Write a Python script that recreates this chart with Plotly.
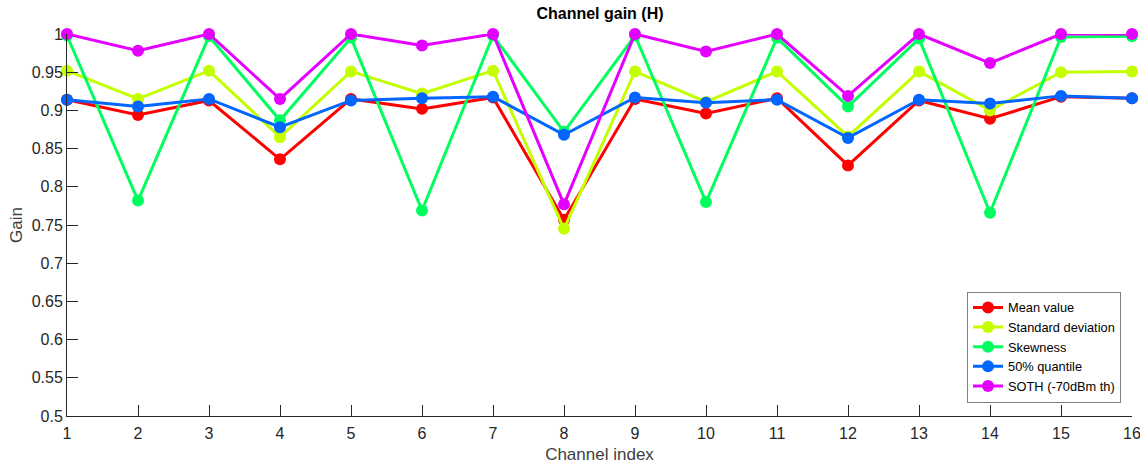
import plotly.graph_objects as go

# Channel indices and per-metric gains
channels = list(range(1, 17))

mean_value = [0.914, 0.894, 0.913, 0.836, 0.915, 0.902, 0.917, 0.757,
              0.915, 0.896, 0.916, 0.828, 0.913, 0.889, 0.918, 0.916]
std_dev = [0.952, 0.915, 0.952, 0.865, 0.951, 0.922, 0.952, 0.745,
           0.951, 0.911, 0.951, 0.866, 0.951, 0.900, 0.950, 0.951]
skewness = [0.998, 0.782, 0.997, 0.887, 0.995, 0.769, 0.998, 0.872,
            0.998, 0.780, 0.995, 0.905, 0.994, 0.766, 0.996, 0.997]
quantile50 = [0.914, 0.905, 0.915, 0.878, 0.913, 0.916, 0.918, 0.868,
              0.917, 0.910, 0.914, 0.864, 0.914, 0.909, 0.919, 0.916]
soth = [1.000, 0.978, 1.000, 0.915, 1.000, 0.985, 1.000, 0.777,
        1.000, 0.977, 1.000, 0.919, 1.000, 0.962, 1.000, 1.000]

series = [
    ("Mean value", mean_value, "#FF0000"),
    ("Standard deviation", std_dev, "#C4FF00"),
    ("Skewness", skewness, "#00FF5E"),
    ("50% quantile", quantile50, "#0066FF"),
    ("SOTH (-70dBm th)", soth, "#E400FF"),
]

x_ticks = list(range(1, 17))
y_ticks = [0.5, 0.55, 0.6, 0.65, 0.7, 0.75, 0.8, 0.85, 0.9, 0.95, 1.0]
y_tick_text = ["0.5", "0.55", "0.6", "0.65", "0.7", "0.75", "0.8", "0.85", "0.9", "0.95", "1"]

fig = go.Figure()
for name, vals, color in series:
    fig.add_trace(go.Scatter(
        x=channels, y=vals, name=name, mode="lines+markers",
        line=dict(color=color, width=3),
        marker=dict(color=color, size=12),
        cliponaxis=False,
    ))

axis_color = "#262626"
font_family = "Liberation Sans, Arial, sans-serif"

fig.update_layout(
    width=1140, height=464,
    margin=dict(l=67, r=8, t=34, b=48),
    paper_bgcolor="white", plot_bgcolor="white",
    font=dict(family=font_family, size=16, color=axis_color),
    title=dict(text="<b>Channel gain (H)</b>", x=0.5263, xanchor="center",
               y=1 - 13 / 464, yanchor="middle",
               font=dict(size=16, color="#000000")),
    showlegend=True,
    legend=dict(x=0.9897, y=0.035, xanchor="right", yanchor="bottom",
                bgcolor="white", bordercolor="#808080", borderwidth=1,
                font=dict(size=12.8, color="#000000"),
                tracegroupgap=0, itemwidth=30),
)

fig.update_xaxes(
    range=[1, 16], tickvals=x_ticks, ticktext=[str(t) for t in x_ticks],
    showgrid=False, zeroline=False, automargin=False,
    showline=True, linecolor=axis_color, linewidth=1,
    ticks="inside", ticklen=11, tickcolor=axis_color, tickwidth=1,
    tickfont=dict(size=16, color=axis_color), ticklabelstandoff=3,
    ticklabeloverflow="allow",
    title=dict(text="Channel index", font=dict(size=17, color="#404040"), standoff=7),
)
fig.update_yaxes(
    range=[0.5, 1.0], tickvals=y_ticks, ticktext=y_tick_text,
    showgrid=False, zeroline=False, automargin=False,
    showline=True, linecolor=axis_color, linewidth=1,
    ticks="inside", ticklen=11, tickcolor=axis_color, tickwidth=1,
    tickfont=dict(size=16, color=axis_color),
    title=dict(text="Gain", font=dict(size=17, color="#404040"), standoff=4),
)

fig.write_html("out.html")
